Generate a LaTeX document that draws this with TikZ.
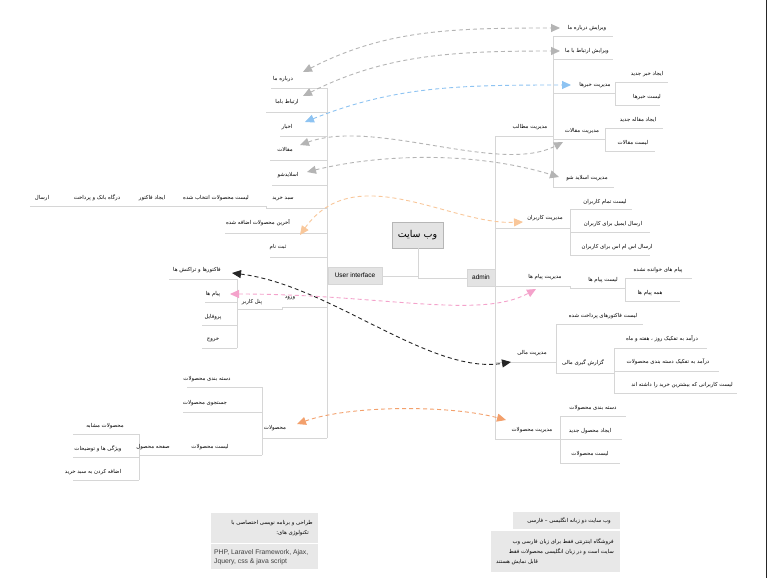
\documentclass[tikz,border=0pt]{standalone}
\usepackage{fontspec}
\setmainfont{Liberation Sans}
\newfontfamily\fa[Script=Arabic]{DejaVu Sans}
\TeXXeTstate=1
\usetikzlibrary{arrows.meta}
\newcommand{\rl}[1]{\beginR#1\endR}
\definecolor{treecol}{HTML}{D6D6D6}
\definecolor{boxfill}{HTML}{E3E3E3}
\definecolor{notefill}{HTML}{E8E8E8}
\definecolor{arrgray}{HTML}{B4B4B4}
\definecolor{arrblue}{HTML}{8DC3F2}
\definecolor{arrpeach}{HTML}{F9C79A}
\definecolor{arrblack}{HTML}{262626}
\definecolor{arrpink}{HTML}{F4A2CB}
\definecolor{arrorange}{HTML}{F3A06C}
\tikzset{
  treeline/.style={draw=treecol, line width=0.9pt},
  lbl/.style={font=\fa\fontsize{5.4}{6}\selectfont, text=black, inner sep=0pt},
  mainbox/.style={draw=treecol!85!black, fill=boxfill, line width=0.8pt},
  subbox/.style={draw=treecol, fill=boxfill, line width=0.6pt},
  notebox/.style={fill=notefill, draw=none},
  conn/.style={dashed, dash pattern=on 4pt off 3pt, line width=0.9pt,
    {Triangle[length=9pt,width=8pt]}-{Triangle[length=9pt,width=8pt]}}
}
\begin{document}
\begin{tikzpicture}[x=1pt,y=-1pt]
\useasboundingbox (0,0) rectangle (769,578);
\fill[white] (0,0) rectangle (769,578);
\draw[arrblack, line width=1pt] (766,0) -- (766,578);

% ---------- centre ----------
\draw[mainbox] (392,222) rectangle (443,248);
\node[font=\fa\fontsize{9.5}{10}\selectfont, inner sep=0pt] (site) at (417.5,235) {\rl{وب سایت}};
\draw[subbox] (328,267) rectangle (382,284);
\node[font=\fontsize{6.5}{7}\selectfont, inner sep=0pt] (ui) at (355,275.5) {User interface};
\draw[subbox] (467,269) rectangle (495,286);
\node[font=\fontsize{6.5}{7}\selectfont, inner sep=0pt] (admin) at (481,277.5) {admin};
\draw[treeline] (382,276) -| (418,248);
\draw[treeline] (418,276) -- (418,278) -- (467,278);

% ---------- UI tree lines ----------
\draw[treeline] (327,88) -- (327,438);
\draw[treeline] (271,88) -- (327,88);
\draw[treeline] (266,112) -- (327,112);
\draw[treeline] (280,136) -- (327,136);
\draw[treeline] (270,160) -- (327,160);
\draw[treeline] (272,185) -- (327,185);
\draw[treeline] (30,206) -- (266,206) -- (266,208) -- (327,208);
\draw[treeline] (225,233) -- (327,233);
\draw[treeline] (270,257) -- (327,257);
\draw[treeline] (327,307) -- (282,307) -- (282,309) -- (237,309);
\draw[treeline] (237,279) -- (237,348);
\draw[treeline] (169,279) -- (237,279);
\draw[treeline] (205,302) -- (237,302);
\draw[treeline] (202,325) -- (237,325);
\draw[treeline] (202,348) -- (237,348);
\draw[treeline] (262,438) -- (327,438);
\draw[treeline] (262,387) -- (262,455);
\draw[treeline] (187,387) -- (262,387);
\draw[treeline] (183,412) -- (262,412);
\draw[treeline] (139,455) -- (262,455);
\draw[treeline] (139,434) -- (139,480);
\draw[treeline] (73,434) -- (139,434);
\draw[treeline] (73,457) -- (139,457);
\draw[treeline] (73,480) -- (139,480);

% ---------- admin tree lines ----------
\draw[treeline] (495,136) -- (495,439);
\draw[treeline] (495,136) -- (553,136);
\draw[treeline] (553,36) -- (553,187);
\draw[treeline] (553,36) -- (613,36);
\draw[treeline] (553,59) -- (613,59);
\draw[treeline] (553,93) -- (615,93);
\draw[treeline] (615,82) -- (615,105);
\draw[treeline] (615,82) -- (668,82);
\draw[treeline] (615,105) -- (660,105);
\draw[treeline] (553,139) -- (605,139);
\draw[treeline] (605,128) -- (605,151);
\draw[treeline] (605,128) -- (663,128);
\draw[treeline] (605,151) -- (655,151);
\draw[treeline] (553,187) -- (614,187);
\draw[treeline] (495,228) -- (570,228);
\draw[treeline] (570,209) -- (570,255);
\draw[treeline] (570,209) -- (632,209);
\draw[treeline] (570,232) -- (650,232);
\draw[treeline] (570,255) -- (650,255);
\draw[treeline] (495,286) -- (570,286) -- (570,288) -- (625,288);
\draw[treeline] (625,278) -- (625,301);
\draw[treeline] (625,278) -- (692,278);
\draw[treeline] (625,301) -- (680,301);
\draw[treeline] (495,362) -- (556,362);
\draw[treeline] (556,324) -- (556,373);
\draw[treeline] (556,324) -- (643,324);
\draw[treeline] (556,373) -- (614,373);
\draw[treeline] (614,348) -- (614,393);
\draw[treeline] (614,348) -- (707,348);
\draw[treeline] (614,371) -- (719,371);
\draw[treeline] (614,393) -- (737,393);
\draw[treeline] (495,439) -- (560,439);
\draw[treeline] (560,416) -- (560,463);
\draw[treeline] (560,416) -- (626,416);
\draw[treeline] (560,439) -- (622,439);
\draw[treeline] (560,463) -- (620,463);

% ---------- UI labels ----------
\node[lbl] (about) at (283,79) {\rl{درباره ما}};
\node[lbl] (contact) at (287,102) {\rl{ارتباط باما}};
\node[lbl] (news) at (287,127) {\rl{اخبار}};
\node[lbl] (articles) at (285,150) {\rl{مقالات}};
\node[lbl] (slide) at (288,175) {\rl{اسلایدشو}};
\node[lbl] (cart) at (283,199) {\rl{سبد خرید}};
\node[lbl] (sel) at (216,198) {\rl{لیست محصولات انتخاب شده}};
\node[lbl] (inv) at (152,198) {\rl{ایجاد فاکتور}};
\node[lbl] (bank) at (97,198) {\rl{درگاه بانک و پرداخت}};
\node[lbl] (send) at (42,198) {\rl{ارسال}};
\node[lbl] (latest) at (258,223) {\rl{آخرین محصولات اضافه شده}};
\node[lbl] (reg) at (278,247) {\rl{ثبت نام}};
\node[lbl] (invoices) at (197,270) {\rl{فاکتورها و تراکنش ها}};
\node[lbl] (msgs) at (213,294) {\rl{پیام ها}};
\node[lbl] (login) at (290,298) {\rl{ورود}};
\node[lbl] (panel) at (252,302) {\rl{پنل کاربر}};
\node[lbl] (profile) at (213,317) {\rl{پروفایل}};
\node[lbl] (logout) at (213,340) {\rl{خروج}};
\node[lbl] (cats) at (207,379) {\rl{دسته بندی محصولات}};
\node[lbl] (search) at (205,403) {\rl{جستجوی محصولات}};
\node[lbl] (products) at (275,428) {\rl{محصولات}};
\node[lbl] (plist) at (210,447) {\rl{لیست محصولات}};
\node[lbl] (ppage) at (153,447) {\rl{صفحه محصول}};
\node[lbl] (similar) at (105,426) {\rl{محصولات مشابه}};
\node[lbl] (features) at (98,449) {\rl{ویژگی ها و توضیحات}};
\node[lbl] (addcart) at (93,472) {\rl{اضافه کردن به سبد خرید}};

% ---------- admin labels ----------
\node[lbl] (eabout) at (587,28) {\rl{ویرایش درباره ما}};
\node[lbl] (econtact) at (587,51) {\rl{ویرایش ارتباط با ما}};
\node[lbl] (mnews) at (595,85) {\rl{مدیریت خبرها}};
\node[lbl] (newnews) at (647,74) {\rl{ایجاد خبر جدید}};
\node[lbl] (listnews) at (647,97) {\rl{لیست خبرها}};
\node[lbl] (mcontent) at (530,127) {\rl{مدیریت مطالب}};
\node[lbl] (marticles) at (582,131) {\rl{مدیریت مقالات}};
\node[lbl] (newart) at (638,120) {\rl{ایجاد مقاله جدید}};
\node[lbl] (listart) at (633,143) {\rl{لیست مقالات}};
\node[lbl] (mslide) at (587,178) {\rl{مدیریت اسلاید شو}};
\node[lbl] (musers) at (545,218) {\rl{مدیریت کاربران}};
\node[lbl] (allusers) at (605,202) {\rl{لیست تمام کاربران}};
\node[lbl] (email) at (613,224) {\rl{ارسال ایمیل برای کاربران}};
\node[lbl] (sms) at (617,247) {\rl{ارسال اس ام اس برای کاربران}};
\node[lbl] (mmsgs) at (545,277) {\rl{مدیریت پیام ها}};
\node[lbl] (listmsgs) at (603,280) {\rl{لیست پیام ها}};
\node[lbl] (unread) at (658,270) {\rl{پیام های خوانده نشده}};
\node[lbl] (allmsgs) at (650,293) {\rl{همه پیام ها}};
\node[lbl] (paid) at (603,316) {\rl{لیست فاکتورهای پرداخت شده}};
\node[lbl] (mfin) at (532,353) {\rl{مدیریت مالی}};
\node[lbl] (report) at (583,363) {\rl{گزارش گیری مالی}};
\node[lbl] (inc1) at (662,339) {\rl{درآمد به تفکیک روز ، هفته و ماه}};
\node[lbl] (inc2) at (668,362) {\rl{درآمد به تفکیک دسته بندی محصولات}};
\node[lbl] (topbuy) at (682,385) {\rl{لیست کاربرانی که بیشترین خرید را داشته اند}};
\node[lbl] (acats) at (593,408) {\rl{دسته بندی محصولات}};
\node[lbl] (mprod) at (532,430) {\rl{مدیریت محصولات}};
\node[lbl] (newprod) at (590,431) {\rl{ایجاد محصول جدید}};
\node[lbl] (aplist) at (590,454) {\rl{لیست محصولات}};

% ---------- connectors ----------
\coordinate (a1) at (303,72);  \coordinate (b1) at (560,28);
\coordinate (a2) at (303,96);  \coordinate (b2) at (560,51);
\coordinate (a3) at (305,122); \coordinate (b3) at (571,85);
\coordinate (a4) at (300,145); \coordinate (b4) at (563,142);
\coordinate (a5) at (307,172); \coordinate (b5) at (559,177);
\coordinate (a6) at (300,235); \coordinate (b6) at (523,222);
\coordinate (a7) at (232,273); \coordinate (b7) at (511,362);
\coordinate (a8) at (230,294); \coordinate (b8) at (536,289);
\coordinate (a9) at (297,424); \coordinate (b9) at (506,420);
\draw[conn, arrgray] (a1) .. controls (385,30) and (450,28) .. (b1);
\draw[conn, arrgray] (a2) .. controls (385,55) and (450,51) .. (b2);
\draw[conn, arrblue] (a3) .. controls (395,86) and (460,85) .. (b3);
\draw[conn, arrgray] (a4) .. controls (375,118) and (500,175) .. (b4);
\draw[conn, arrgray] (a5) .. controls (375,155) and (470,150) .. (b5);
\draw[conn, arrpeach] (a6) .. controls (355,158) and (450,225) .. (b6);
\draw[conn, arrblack] (a7) .. controls (330,285) and (430,375) .. (b7);
\draw[conn, arrpink] (a8) .. controls (380,294) and (480,320) .. (b8);
\draw[conn, arrorange] (a9) .. controls (350,405) and (450,405) .. (b9);

% ---------- notes ----------
\fill[notefill] (211,513) rectangle (318,543);
\fill[notefill] (211,544) rectangle (318,569);
\node[font=\fa\fontsize{5.4}{6}\selectfont, anchor=east, inner sep=0pt] (nl1) at (313,523) {\rl{طراحی و برنامه نویسی اختصاصی با}};
\node[font=\fa\fontsize{5.4}{6}\selectfont, anchor=east, inner sep=0pt] (nl2) at (309,533) {\rl{تکنولوژی های:}};
\node[font=\fontsize{6.8}{8}\selectfont, text=black!75, anchor=west, inner sep=0pt] (nl3) at (214,553) {PHP, Laravel Framework, Ajax,};
\node[font=\fontsize{6.8}{8}\selectfont, text=black!75, anchor=west, inner sep=0pt] (nl4) at (214,561.5) {Jquery, css \& java script};

\fill[notefill] (513,512) rectangle (620,529);
\fill[notefill] (491,531) rectangle (620,572);
\node[font=\fa\fontsize{5.4}{6}\selectfont, anchor=east, inner sep=0pt] (nr1) at (611,520.5) {\rl{وب سایت دو زبانه انگلیسی – فارسی}};
\node[font=\fa\fontsize{5.4}{6}\selectfont, anchor=east, inner sep=0pt] (nr2) at (614,542) {\rl{فروشگاه اینترنتی فقط برای زبان فارسی وب}};
\node[font=\fa\fontsize{5.4}{6}\selectfont, anchor=east, inner sep=0pt] (nr3) at (614,551.5) {\rl{سایت است و در زبان انگلیسی محصولات فقط}};
\node[font=\fa\fontsize{5.4}{6}\selectfont, anchor=west, inner sep=0pt] (nr4) at (496,562) {\rl{قابل نمایش هستند}};
\end{tikzpicture}
\end{document}
